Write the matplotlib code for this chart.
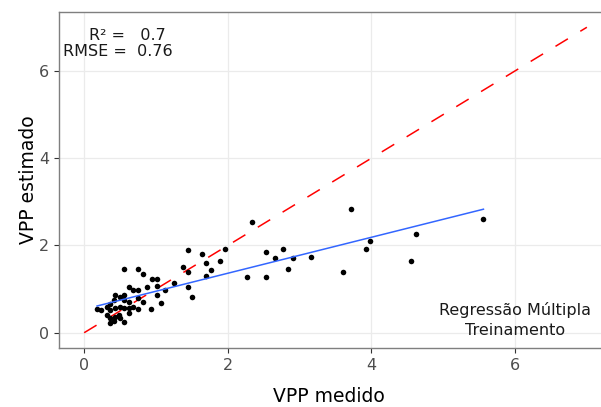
import numpy as np
import matplotlib.pyplot as plt

plt.rcParams['font.family'] = ['DejaVu Sans']

# VPP medido (x) vs VPP estimado (y)
vpp_medido = [
    5.56, 3.72, 4.62, 4.55, 3.98, 3.93, 3.61, 3.16, 2.91, 2.84, 2.77, 2.66,
    2.34, 2.53, 2.27, 2.53,
    1.45, 1.64, 1.96, 1.89, 1.70, 1.77, 1.38, 1.45, 1.70,
    0.56, 0.75, 0.82, 0.95, 1.02, 1.25, 1.13, 0.88, 1.02, 1.02, 1.07, 0.93,
    1.45, 1.50,
    0.63, 0.68, 0.75, 0.75, 0.82, 0.75, 0.68, 0.63, 0.56, 0.43, 0.50, 0.56,
    0.42, 0.36, 0.32, 0.18, 0.24, 0.36, 0.43, 0.50, 0.56, 0.32, 0.36, 0.43,
    0.50, 0.56, 0.36, 0.42, 0.49, 0.63, 0.63,
]
vpp_estimado = [
    2.61, 2.84, 2.27, 1.65, 2.11, 1.92, 1.39, 1.74, 1.72, 1.47, 1.92, 1.72,
    2.54, 1.85, 1.28, 1.28,
    1.90, 1.81, 1.92, 1.65, 1.60, 1.44, 1.51, 1.40, 1.30,
    1.46, 1.46, 1.35, 1.24, 1.24, 1.14, 0.98, 1.05, 1.07, 0.87, 0.69, 0.55,
    1.05, 0.82,
    1.05, 0.98, 0.98, 0.80, 0.71, 0.55, 0.60, 0.46, 0.87, 0.87, 0.82, 0.76,
    0.76, 0.66, 0.60, 0.55, 0.53, 0.53, 0.57, 0.60, 0.57, 0.41, 0.34, 0.37,
    0.34, 0.25, 0.23, 0.27, 0.41, 0.57, 0.71,
]
linha_1_1 = [0, 7]
ticks = [0, 2, 4, 6]

x = np.array(vpp_medido)
y = np.array(vpp_estimado)

fig = plt.figure(figsize=(6.01, 4.07), dpi=100)
ax = fig.add_axes([59 / 601, 59 / 407, 553 / 601, 336 / 407])

ax.set_xlim(-0.35, 7.35)
ax.set_ylim(-0.35, 7.35)
ax.set_xticks(ticks)
ax.set_yticks(ticks)
ax.grid(True, color='#EBEBEB', linewidth=0.9)
ax.set_axisbelow(True)

for side in ['left', 'bottom', 'top']:
    ax.spines[side].set_color('#7F7F7F')
    ax.spines[side].set_linewidth(1.0)
ax.spines['right'].set_visible(False)
ax.tick_params(colors='#333333', labelcolor='#4D4D4D', length=3.5,
               width=0.8, labelsize=11.5)

# linha 1:1
ax.plot(linha_1_1, linha_1_1, color='red', linewidth=1.1,
        dashes=[9.5, 9.5], zorder=2)

# pontos
ax.scatter(x, y, s=16, color='black', zorder=3, linewidths=0)

# ajuste linear (geom_smooth lm)
coef = np.polyfit(x, y, 1)
xs = np.array([x.min(), x.max()])
ax.plot(xs, np.polyval(coef, xs), color='#3366FF', linewidth=1.1, zorder=4)

ax.text(0.60, 6.82, 'R² =   0.7', fontsize=11.5, color='#1A1A1A',
        ha='center', va='center')
ax.text(0.47, 6.45, 'RMSE =  0.76', fontsize=11.5, color='#1A1A1A',
        ha='center', va='center')
ax.text(6.0, 0.52, 'Regressão Múltipla', fontsize=11.5, color='#1A1A1A',
        ha='center', va='center')
ax.text(6.0, 0.05, 'Treinamento', fontsize=11.5, color='#1A1A1A',
        ha='center', va='center')

fig.text(329 / 601, 1 - 397 / 407, 'VPP medido', fontsize=13.5,
         ha='center', va='center')
fig.text(28 / 601, 1 - 180 / 407, 'VPP estimado', fontsize=13.5,
         ha='center', va='center', rotation=90)

fig.savefig('out.png', dpi=100)
